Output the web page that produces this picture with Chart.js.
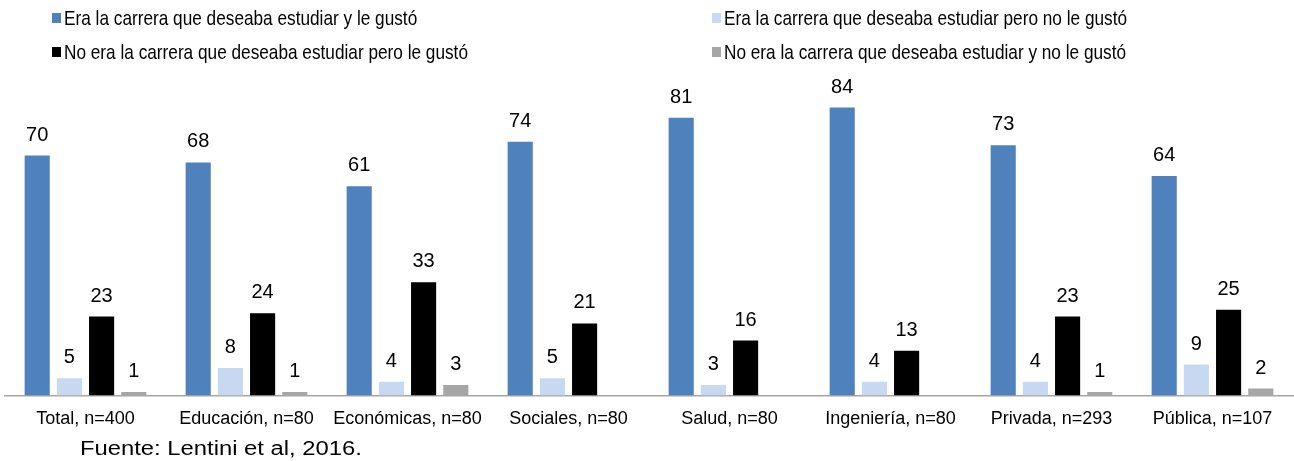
<!DOCTYPE html>
<html lang="es">
<head>
<meta charset="UTF-8">
<title>Carrera deseada y gusto</title>
<script src="https://cdn.jsdelivr.net/npm/chart.js"></script>
<style>
    body { margin: 0; background: #fff; font-family: "Liberation Sans", Arial, sans-serif; }
    .wrap { position: relative; width: 1294px; height: 461px; overflow: hidden; }
    #chart { position: absolute; left: 0; top: 0; }
    .sq { position: absolute; width: 9px; height: 10px; }
    .ltxt { position: absolute; font-size: 21px; line-height: 24px; color: #000; white-space: nowrap;
            transform: scaleX(0.82); transform-origin: left center; }
    .source { position: absolute; left: 80px; top: 436px; font-size: 20px; line-height: 24px; color: #000;
              white-space: nowrap; transform: scaleX(1.19); transform-origin: left center; }
</style>
</head>
<body>
<div class="wrap">
    <canvas id="chart" width="1294" height="443"></canvas>
    <div id="legend"></div>
    <div class="source">Fuente: Lentini et al, 2016.</div>
</div>
<script>
const categories = ['Total, n=400', 'Educación, n=80', 'Económicas, n=80', 'Sociales, n=80', 'Salud, n=80', 'Ingeniería, n=80', 'Privada, n=293', 'Pública, n=107'];
const seriesNames = [
    'Era la carrera que deseaba estudiar y le gustó',
    'Era la carrera que deseaba estudiar pero no le gustó',
    'No era la carrera que deseaba estudiar pero le gustó',
    'No era la carrera que deseaba estudiar y no le gustó'
];
const deseabaGusto = [70, 68, 61, 74, 81, 84, 73, 64];
const deseabaNoGusto = [5, 8, 4, 5, 3, 4, 4, 9];
const noDeseabaGusto = [23, 24, 33, 21, 16, 13, 23, 25];
const noDeseabaNoGusto = [1, 1, 3, null, null, null, 1, 2];
const colors = ['#4f81bd', '#c6d9f1', '#000000', '#a6a6a6'];

const seriesData = [deseabaGusto, deseabaNoGusto, noDeseabaGusto, noDeseabaNoGusto];

// leyenda en 2 columnas como el original
const legendPos = [[52, 6], [712, 6], [52, 40], [712, 40]];
const legend = document.getElementById('legend');
seriesNames.forEach((name, i) => {
    const [x, y] = legendPos[i];
    const sq = document.createElement('div');
    sq.className = 'sq';
    sq.style.left = x + 'px';
    sq.style.top = (y + 7) + 'px';
    sq.style.background = colors[i];
    legend.appendChild(sq);
    const t = document.createElement('div');
    t.className = 'ltxt';
    t.style.left = (x + 12) + 'px';
    t.style.top = y + 'px';
    t.textContent = name;
    legend.appendChild(t);
});

const valueLabels = {
    id: 'valueLabels',
    afterDatasetsDraw(chart) {
        const ctx = chart.ctx;
        ctx.save();
        ctx.font = '20px "Liberation Sans", Arial, sans-serif';
        ctx.fillStyle = '#000';
        ctx.textAlign = 'center';
        ctx.textBaseline = 'alphabetic';
        chart.data.datasets.forEach((ds, i) => {
            chart.getDatasetMeta(i).data.forEach((bar, j) => {
                const v = ds.data[j];
                if (v === null || v === undefined) return;
                ctx.fillText(v, bar.x, bar.y - 15);
            });
        });
        ctx.restore();
    }
};

new Chart(document.getElementById('chart'), {
    type: 'bar',
    data: {
        labels: categories,
        datasets: seriesData.map((d, i) => ({
            label: seriesNames[i],
            data: d,
            backgroundColor: colors[i],
            categoryPercentage: 0.8,
            barPercentage: 0.78
        }))
    },
    options: {
        responsive: false,
        animation: false,
        layout: { padding: { left: 5, right: 1, top: 87, bottom: 0 } },
        plugins: { legend: { display: false }, tooltip: { enabled: false } },
        scales: {
            y: { display: false, min: 0, max: 90 },
            x: {
                grid: { display: false, drawTicks: false },
                border: { display: true, color: '#a6a6a6', width: 1.5 },
                ticks: {
                    color: '#000',
                    padding: 13,
                    maxRotation: 0,
                    autoSkip: false,
                    font: { family: '"Liberation Sans", Arial, sans-serif', size: 18 }
                }
            }
        }
    },
    plugins: [valueLabels]
});
</script>
</body>
</html>
